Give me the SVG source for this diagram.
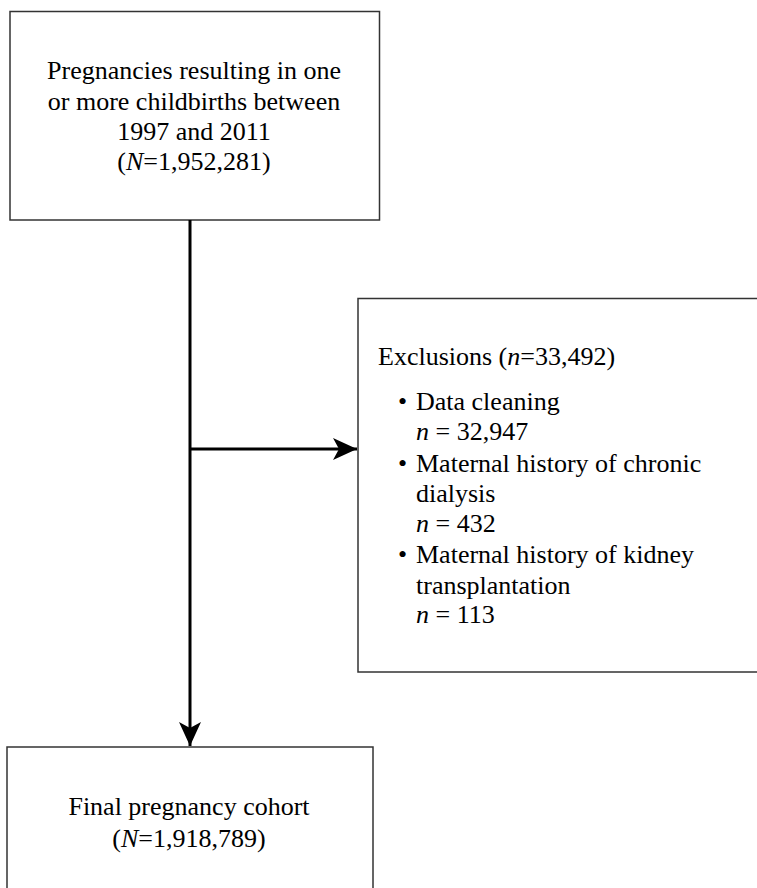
<svg xmlns="http://www.w3.org/2000/svg" width="757" height="888" viewBox="0 0 757 888">
<defs>
<marker id="ah" markerUnits="userSpaceOnUse" markerWidth="26" markerHeight="26" viewBox="0 0 26 26" refX="24" refY="13" orient="auto">
<path d="M0,2 L24,13 L0,24 L6,13 Z" fill="#000"/>
</marker>
</defs>
<g id="top">
<rect x="10" y="11.5" width="369.5" height="208.5" fill="#fff" stroke="#333" stroke-width="1.5"/>
<text x="194" y="79" text-anchor="middle" font-family="Liberation Serif" font-size="26">Pregnancies resulting in one</text>
<text x="194" y="110" text-anchor="middle" font-family="Liberation Serif" font-size="26">or more childbirths between</text>
<text x="194" y="140" text-anchor="middle" font-family="Liberation Serif" font-size="26">1997 and 2011</text>
<text x="194" y="170" text-anchor="middle" font-family="Liberation Serif" font-size="26">(<tspan font-style="italic">N</tspan>=1,952,281)</text>
</g>
<g id="exclusions">
<rect x="358" y="298.5" width="410" height="373.5" fill="#fff" stroke="#333" stroke-width="1.5"/>
<text x="378" y="365" font-family="Liberation Serif" font-size="26">Exclusions (<tspan font-style="italic">n</tspan>=33,492)</text>
<text x="398" y="410" font-family="Liberation Serif" font-size="26">•</text>
<text x="416" y="410" font-family="Liberation Serif" font-size="26">Data cleaning</text>
<text x="416" y="440" font-family="Liberation Serif" font-size="26"><tspan font-style="italic">n</tspan> = 32,947</text>
<text x="398" y="472" font-family="Liberation Serif" font-size="26">•</text>
<text x="416" y="472" font-family="Liberation Serif" font-size="26">Maternal history of chronic</text>
<text x="416" y="502" font-family="Liberation Serif" font-size="26">dialysis</text>
<text x="416" y="532" font-family="Liberation Serif" font-size="26"><tspan font-style="italic">n</tspan> = 432</text>
<text x="398" y="563" font-family="Liberation Serif" font-size="26">•</text>
<text x="416" y="563" font-family="Liberation Serif" font-size="26">Maternal history of kidney</text>
<text x="416" y="594" font-family="Liberation Serif" font-size="26">transplantation</text>
<text x="416" y="623" font-family="Liberation Serif" font-size="26"><tspan font-style="italic">n</tspan> = 113</text>
</g>
<g id="final">
<rect x="7" y="747" width="366" height="150" fill="#fff" stroke="#333" stroke-width="1.5"/>
<text x="189" y="815" text-anchor="middle" font-family="Liberation Serif" font-size="26">Final pregnancy cohort</text>
<text x="189" y="847" text-anchor="middle" font-family="Liberation Serif" font-size="26">(<tspan font-style="italic">N</tspan>=1,918,789)</text>
</g>
<g id="connectors" stroke="#000" stroke-width="3" fill="none">
<line x1="190" y1="220" x2="190" y2="746" marker-end="url(#ah)"/>
<line x1="190" y1="449" x2="357" y2="449" marker-end="url(#ah)"/>
</g>
</svg>
